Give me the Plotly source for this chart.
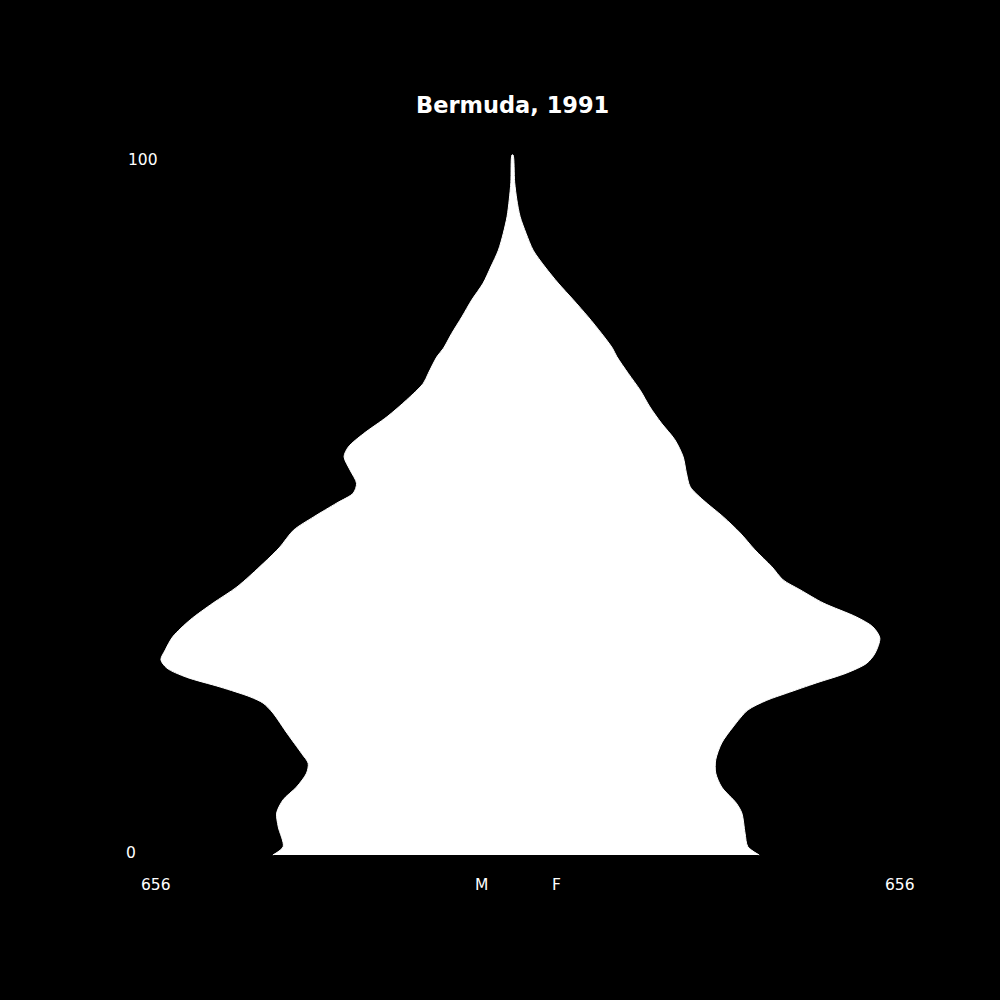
import plotly.graph_objects as go

# ---- data ----
title_text = "Bermuda, 1991"

male_ages = [0, 1.2, 4, 6, 7.9, 9.75, 11.7, 13.1, 14.5, 17.4, 20.3, 21.7, 22.6, 24, 25.4,
             26.7, 27.9, 29.3, 31.2, 33.6, 36, 38.3, 41.7, 44, 46.4, 48.3, 50.3, 51.7,
             53.1, 55, 56.9, 58.3, 60.2, 62.6, 65, 67.4, 68.8, 71.2, 72.4, 74.5, 76.9,
             79.3, 81.7, 84, 86.4, 88.8, 91.2, 93.6, 96.1, 100]
male_values = [441, 422, 431, 434, 422, 397, 379, 376, 388, 415, 441, 459, 483, 538, 600,
               636, 647, 639, 625, 593, 551, 507, 458, 428, 403, 366, 323, 293,
               287, 299, 310, 302, 274, 231, 195, 164, 155, 139, 127, 112, 93,
               75, 54, 40, 26, 17, 10, 6, 3, 1]

female_ages = [0, 1.2, 3.1, 6, 7.4, 9.7, 11.7, 13.6, 16, 18.3, 20.7, 22.1, 23.1, 24.6, 26,
               27.4, 28.8, 31, 32.6, 34, 36, 37.9, 39.3, 41.2, 43.6, 46, 48.3, 50.7,
               52.6, 54.6, 56.9, 59.3, 61.7, 64, 66.4, 68.8, 71.2, 72.4, 74.5, 76.9,
               79.3, 81.7, 84, 86.4, 88.8, 91.2, 93.6, 96.1, 100]
female_values = [454, 433, 428, 422, 412, 385, 374, 374, 385, 406, 433, 468, 504, 560, 615,
                 652, 667, 676, 663, 633, 572, 529, 498, 477, 446, 419, 388, 351,
                 327, 320, 314, 299, 274, 253, 235, 213, 192, 184, 164, 139,
                 112, 84, 60, 38, 25, 14, 8, 4, 1]

x_tick_labels = ["656", "M", "F", "656"]
y_tick_labels = ["100", "0"]

FONT = "DejaVu Sans"

# one closed outline: up the male side, down the female side
outline_x = [-v for v in male_values] + female_values[::-1]
outline_y = male_ages + female_ages[::-1]

fig = go.Figure()
fig.add_trace(go.Scatter(
    x=outline_x, y=outline_y, mode="lines",
    line=dict(color="white", width=1, shape="spline", smoothing=0.8),
    fill="toself", fillcolor="white", hoverinfo="skip", showlegend=False))

# axis label annotations (paper coordinates of a 1000x1000 page)
xlab_pos = [156, 481, 556, 900]
annotations = []
for txt, px in zip(x_tick_labels, xlab_pos):
    annotations.append(dict(text=txt, x=px / 1000, y=1 - 885 / 1000, xref="paper", yref="paper",
                            xanchor="center", yanchor="middle", showarrow=False,
                            font=dict(family=FONT, size=15.5, color="white")))
for txt, (px, py) in zip(y_tick_labels, [(126, 160), (124, 853)]):
    annotations.append(dict(text=txt, x=px / 1000, y=1 - py / 1000, xref="paper", yref="paper",
                            xanchor="left", yanchor="middle", showarrow=False,
                            font=dict(family=FONT, size=15.5, color="white")))
annotations.append(dict(text="<b>" + title_text + "</b>", x=512 / 1000, y=1 - 105 / 1000,
                        xref="paper", yref="paper", xanchor="center", yanchor="middle",
                        showarrow=False, font=dict(family=FONT, size=22.5, color="white")))

k = 0.5434  # px per person
x0 = 512.5
fig.update_layout(
    width=1000, height=1000,
    margin=dict(l=0, r=0, t=0, b=0),
    paper_bgcolor="black", plot_bgcolor="black",
    xaxis=dict(range=[-x0 / k, (1000 - x0) / k], visible=False, domain=[0, 1], fixedrange=True),
    yaxis=dict(range=[(855 - 1000) / 7, 855 / 7], visible=False, domain=[0, 1], fixedrange=True),
    annotations=annotations,
    showlegend=False,
)
fig.write_html(
    "out.html",
    config={"displayModeBar": False},
    post_script="document.body.style.margin='0';document.body.style.background='black';"
                "document.body.style.overflow='hidden';",
)
